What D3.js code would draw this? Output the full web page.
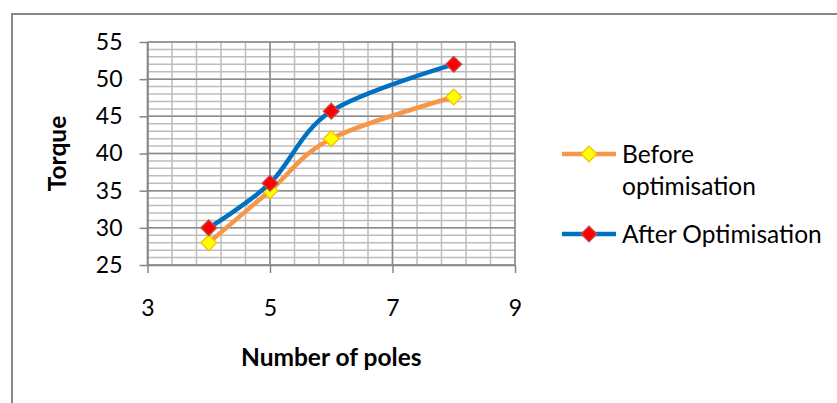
<!DOCTYPE html>
<html>
<head>
<meta charset="utf-8">
<script src="https://cdn.jsdelivr.net/npm/d3@7"></script>
<style>
  html, body { margin: 0; padding: 0; background: #fff; }
  svg { display: block; }
  text { font-family: Lato, "Open Sans", sans-serif; fill: #000; }
</style>
</head>
<body>
<svg id="chart" width="837" height="403"></svg>
<script>
// ---- data ----
const poles = [4, 5, 6, 8];
const beforeValues = [28, 35, 42, 47.6];
const afterValues = [30, 36, 45.7, 52];
const seriesNames = ["Before optimisation", "After Optimisation"];
const xTicks = [3, 5, 7, 9];
const yTicks = [25, 30, 35, 40, 45, 50, 55];
const xTitle = "Number of poles";
const yTitle = "Torque";

const series = [
  { name: seriesNames[0], values: beforeValues, line: "#F79646", fill: "#FFFF00", stroke: "#F2C200" },
  { name: seriesNames[1], values: afterValues, line: "#0070C0", fill: "#FF0000", stroke: "#C0504D" }
];

const svg = d3.select("#chart");

// outer frame
svg.append("path")
  .attr("d", "M12,404 L12,14 L838,14")
  .attr("fill", "none").attr("stroke", "#878787").attr("stroke-width", 2);

const x = d3.scaleLinear().domain([3, 9]).range([147.5, 515]);
const y = d3.scaleLinear().domain([25, 55]).range([265, 42]);

// minor grid
const g = svg.append("g");
const minorX = d3.range(3, 9.0001, 0.4);
const minorY = d3.range(25, 55.0001, 1);
g.selectAll("line.mx").data(minorX).join("line")
  .attr("x1", d => x(d)).attr("x2", d => x(d))
  .attr("y1", y(25)).attr("y2", y(55))
  .attr("stroke", "#bcbcbc").attr("stroke-width", 1.5);
g.selectAll("line.my").data(minorY).join("line")
  .attr("y1", d => y(d)).attr("y2", d => y(d))
  .attr("x1", x(3)).attr("x2", x(9))
  .attr("stroke", "#bcbcbc").attr("stroke-width", 1.5);
// major grid
g.selectAll("line.Mx").data(xTicks).join("line")
  .attr("x1", d => x(d)).attr("x2", d => x(d))
  .attr("y1", y(25)).attr("y2", y(55))
  .attr("stroke", "#8a8a8a").attr("stroke-width", 1.5);
g.selectAll("line.My").data(yTicks).join("line")
  .attr("y1", d => y(d)).attr("y2", d => y(d))
  .attr("x1", x(3)).attr("x2", x(9))
  .attr("stroke", "#8a8a8a").attr("stroke-width", 1.5);

// axes
const fmt = d3.format("d");
const xAxis = svg.append("g").attr("transform", `translate(0,${y(25)})`)
  .call(d3.axisBottom(x).tickValues(xTicks).tickFormat(fmt).tickSizeInner(8).tickSizeOuter(0).tickPadding(27));
const yAxis = svg.append("g").attr("transform", `translate(${x(3)},0)`)
  .call(d3.axisLeft(y).tickValues(yTicks).tickFormat(fmt).tickSizeInner(8).tickSizeOuter(0).tickPadding(17));
[xAxis, yAxis].forEach(a => {
  a.select(".domain").attr("stroke", "#868686").attr("stroke-width", 1.5);
  a.selectAll(".tick line").attr("stroke", "#868686").attr("stroke-width", 1.5);
  a.selectAll(".tick text").style("font-family", "Lato, sans-serif").style("font-size", "23px").attr("fill", "#000");
});
xAxis.selectAll(".tick text").attr("dy", "0.71em");

// titles
svg.append("text").attr("x", (x(3) + x(9)) / 2).attr("y", 366)
  .attr("text-anchor", "middle").style("font-size", "24.5px").style("font-weight", "bold").text(xTitle);
svg.append("text").attr("transform", `translate(66,${(y(25) + y(55)) / 2}) rotate(-90)`)
  .attr("text-anchor", "middle").style("font-size", "24.5px").style("font-weight", "bold").text(yTitle);

// lines & markers
const lineGen = d3.line().x(d => x(d[0])).y(d => y(d[1])).curve(d3.curveCatmullRom.alpha(0));
const diamond = d3.symbol().type(d3.symbolSquare).size(125);
series.forEach(s => {
  const pts = poles.map((p, i) => [p, s.values[i]]);
  svg.append("path").datum(pts).attr("d", lineGen)
    .attr("fill", "none").attr("stroke", s.line).attr("stroke-width", 4.5).attr("stroke-linecap", "round");
  svg.append("g").selectAll("path").data(pts).join("path")
    .attr("d", diamond)
    .attr("transform", d => `translate(${x(d[0])},${y(d[1])}) rotate(45)`)
    .attr("fill", s.fill).attr("stroke", s.stroke).attr("stroke-width", 1.3);
});

// legend
const legendRows = [
  { s: series[0], y: 154, lines: ["Before", "optimisation"] },
  { s: series[1], y: 234, lines: ["After Optimisation"] }
];
legendRows.forEach(r => {
  svg.append("line").attr("x1", 562).attr("x2", 616).attr("y1", r.y).attr("y2", r.y)
    .attr("stroke", r.s.line).attr("stroke-width", 4.5);
  svg.append("path").attr("d", diamond)
    .attr("transform", `translate(589,${r.y}) rotate(45)`)
    .attr("fill", r.s.fill).attr("stroke", r.s.stroke).attr("stroke-width", 1.3);
  const t = svg.append("text").attr("x", 622).attr("y", r.y + 8.5).style("font-size", "24.5px");
  r.lines.forEach((l, i) => t.append("tspan").attr("x", 622).attr("dy", i === 0 ? 0 : 32).text(l));
});
</script>
</body>
</html>
